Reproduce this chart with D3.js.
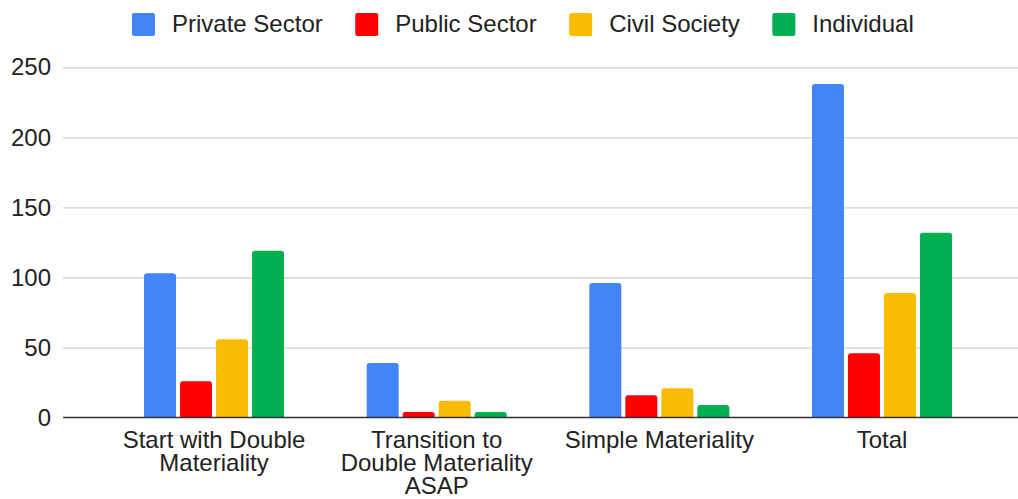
<!DOCTYPE html>
<html>
<head>
<meta charset="utf-8">
<script src="https://cdnjs.cloudflare.com/ajax/libs/d3/7.8.5/d3.min.js"></script>
<style>
  body { margin: 0; background: #fff; }
  text { font-family: "Liberation Sans", Arial, sans-serif; fill: #222; }
</style>
</head>
<body>
<div id="chart"></div>
<script>
// Chart is 1018 x 499 px.
var width = 1018;
var height = 499;

// Categories along the x axis, and one value list per series.
var categories = ["Start with Double Materiality", "Transition to Double Materiality ASAP", "Simple Materiality", "Total"];
var seriesNames = ["Private Sector", "Public Sector", "Civil Society", "Individual"];
var seriesColors = ["#4285f4", "#ff0000", "#fbbc04", "#00b050"];
var privateSector = [103, 39, 96, 238];
var publicSector = [26, 4, 16, 46];
var civilSociety = [56, 12, 21, 89];
var individual = [119, 4, 9, 132];
var yTicks = [0, 50, 100, 150, 200, 250];

var seriesValues = [privateSector, publicSector, civilSociety, individual];

var svg = d3.select('#chart')
			.append('svg')
			.attr('width', width)
			.attr('height', height);

var x0 = d3.scaleBand()
			.domain(categories)
			.range([102.7, 993.3]);

var x1 = d3.scaleBand()
			.domain(seriesNames)
			.range([0, 140])
			.paddingInner(4 / 36)
			.paddingOuter(0);

var y = d3.scaleLinear()
			.domain([0, 250])
			.range([417.6, 67.3]);

// Gridlines, drawn with the axis generator.
var grid = svg.append('g')
			.attr('transform', 'translate(63,0)')
			.call(d3.axisRight(y).tickValues(yTicks.slice(1)).tickSize(width - 63).tickFormat(''));
grid.select('.domain').remove();
grid.selectAll('line').attr('stroke', '#d0d0d0').attr('stroke-width', 1.3);

// Y tick labels.
var yAxis = svg.append('g')
			.attr('transform', 'translate(63,0)')
			.call(d3.axisLeft(y).tickValues(yTicks).tickSize(0).tickPadding(12));
yAxis.select('.domain').remove();
yAxis.selectAll('text')
	.attr('font-size', 24)
	.attr('font-family', '"Liberation Sans", Arial, sans-serif')
	.attr('fill', '#222');

// Bars with slightly rounded tops.
function barPath(bx, by, bw, bh) {
	var r = Math.min(3, bh / 2, bw / 2);
	return 'M' + bx + ',' + (by + bh) +
		'V' + (by + r) +
		'Q' + bx + ',' + by + ' ' + (bx + r) + ',' + by +
		'H' + (bx + bw - r) +
		'Q' + (bx + bw) + ',' + by + ' ' + (bx + bw) + ',' + (by + r) +
		'V' + (by + bh) + 'Z';
}

var groups = svg.selectAll('.group')
			.data(categories)
			.enter()
			.append('g')
			.attr('class', 'group')
			.attr('transform', function(d) { return 'translate(' + (x0(d) + (x0.bandwidth() - 140) / 2) + ',0)'; });

groups.selectAll('path')
	.data(function(d, i) {
		return seriesNames.map(function(s, j) { return { name: s, value: seriesValues[j][i], color: seriesColors[j] }; });
	})
	.enter()
	.append('path')
	.attr('d', function(d) { return barPath(x1(d.name), y(d.value), x1.bandwidth(), y(0) - y(d.value)); })
	.attr('fill', function(d) { return d.color; });

// Baseline.
svg.append('line')
	.attr('x1', 63)
	.attr('x2', width)
	.attr('y1', y(0))
	.attr('y2', y(0))
	.attr('stroke', '#333')
	.attr('stroke-width', 1.5);

// X labels, wrapped.
var xAxis = svg.append('g')
			.attr('transform', 'translate(0,' + y(0) + ')')
			.call(d3.axisBottom(x0).tickSize(0).tickPadding(0));
xAxis.select('.domain').remove();
xAxis.selectAll('text')
	.attr('font-size', 24)
	.attr('font-family', '"Liberation Sans", Arial, sans-serif')
	.attr('fill', '#222')
	.attr('dy', null)
	.attr('y', 30.5)
	.call(wrap, 200);

function wrap(texts, maxWidth) {
	texts.each(function() {
		var text = d3.select(this);
		var words = text.text().split(' ');
		var lines = [];
		var line = [];
		text.text(null);
		var tspan = text.append('tspan').attr('x', 0);
		words.forEach(function(w) {
			line.push(w);
			tspan.text(line.join(' '));
			if (tspan.node().getComputedTextLength() > maxWidth && line.length > 1) {
				line.pop();
				lines.push(line.join(' '));
				line = [w];
				tspan.text(w);
			}
		});
		lines.push(line.join(' '));
		text.text(null);
		lines.forEach(function(l, i) {
			text.append('tspan')
				.attr('x', 0)
				.attr('dy', i === 0 ? 0 : 23)
				.text(l);
		});
	});
}

// Legend.
var legend = svg.append('g');
var lx = 132;
seriesNames.forEach(function(name, i) {
	legend.append('rect')
		.attr('x', lx)
		.attr('y', 13)
		.attr('width', 23)
		.attr('height', 23)
		.attr('rx', 2)
		.attr('fill', seriesColors[i]);
	var t = legend.append('text')
		.attr('x', lx + 40)
		.attr('y', 32)
		.attr('font-size', 24)
		.text(name);
	lx += 40 + t.node().getComputedTextLength() + 32.5;
});
</script>
</body>
</html>
